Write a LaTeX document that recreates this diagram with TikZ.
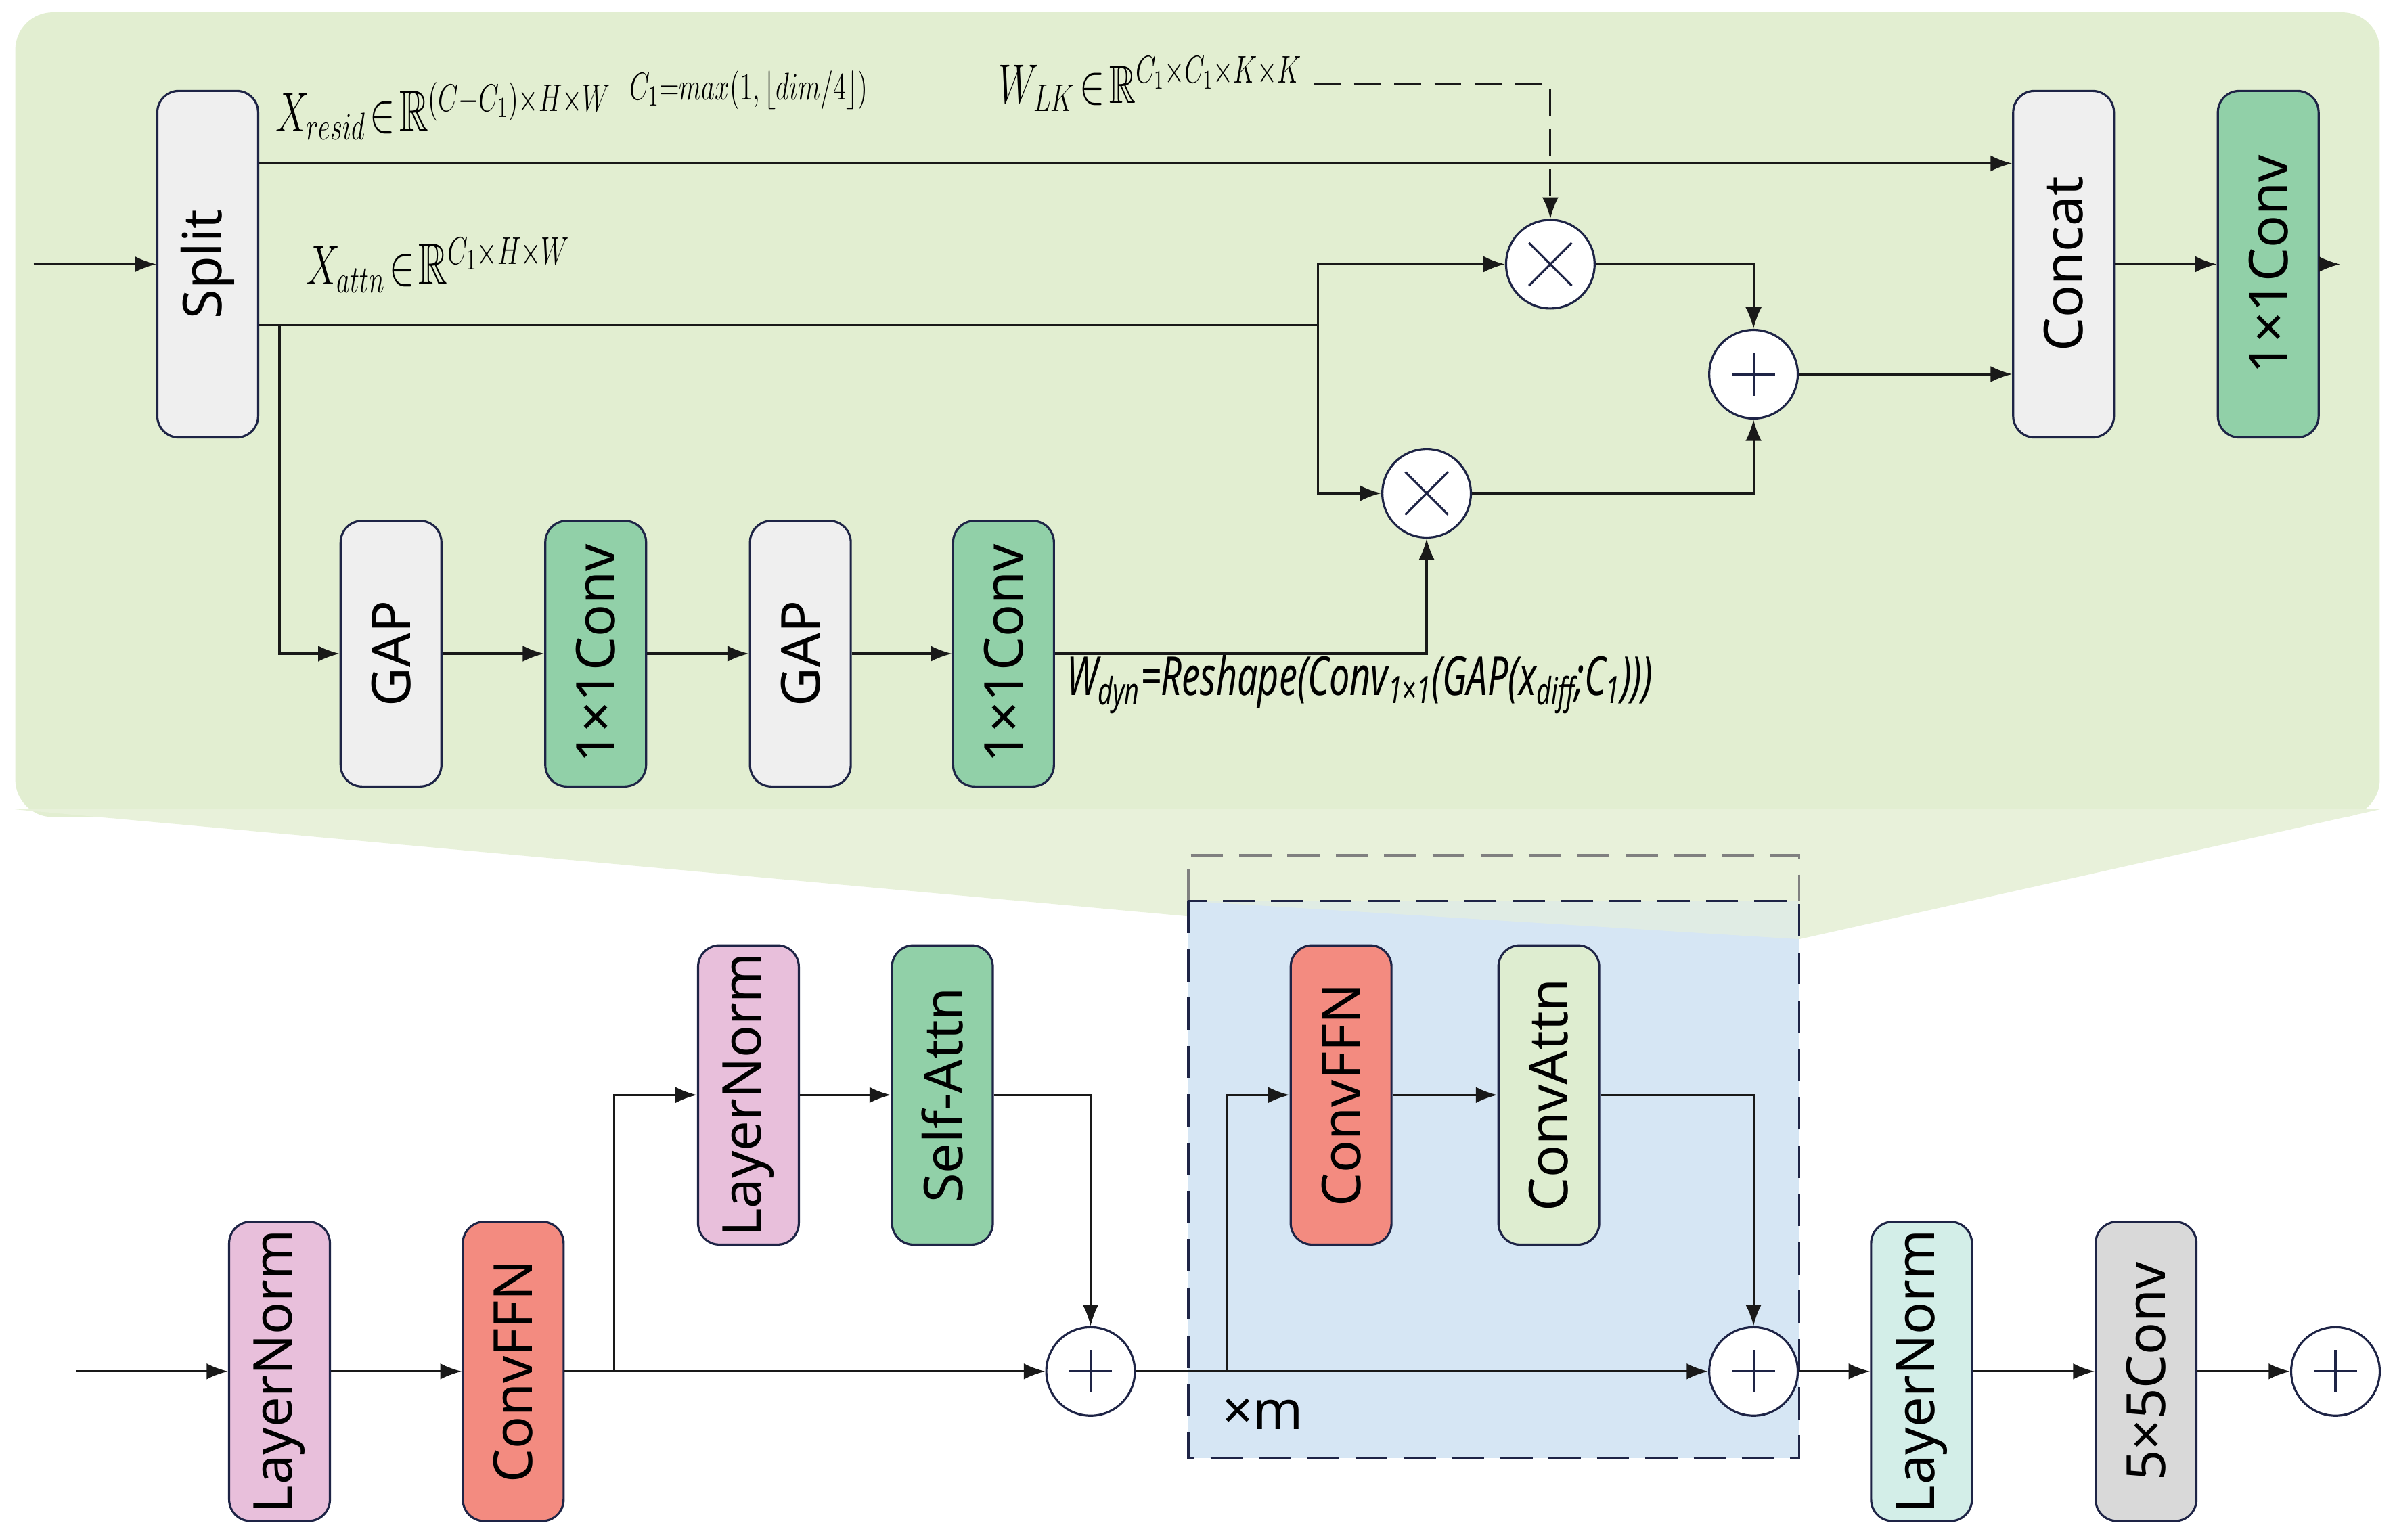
\documentclass[tikz,border=0pt]{standalone}
\usepackage{amsmath,amssymb}
\usepackage{graphicx}
\usepackage{fontspec}
\setmainfont{Noto Sans}
\usetikzlibrary{arrows.meta,positioning,calc}
\definecolor{panelgreen}{RGB}{226,238,209}
\definecolor{splitgray}{RGB}{239,239,239}
\definecolor{convgreen}{RGB}{145,208,168}
\definecolor{lnpink}{RGB}{232,191,219}
\definecolor{ffnred}{RGB}{243,139,128}
\definecolor{attnlight}{RGB}{222,237,208}
\definecolor{lncyan}{RGB}{211,238,232}
\definecolor{kgray}{RGB}{217,217,217}
\definecolor{boxblue}{RGB}{214,230,244}
\definecolor{navy}{RGB}{30,36,70}
\tikzset{
    blk/.style={draw=navy, thick, rounded corners=8pt, rotate=90, minimum height=1.32cm,
        inner sep=2pt, font=\fontsize{20}{24}\selectfont},
    opn/.style={draw=navy, thick, circle, fill=white, minimum size=1.16cm, inner sep=0pt},
    line/.style={thick, black!90},
    arr/.style={line, -{Latex[length=8pt,width=6pt]}},
    mlab/.style={font=\fontsize{22}{26}\selectfont, inner sep=0pt}
}
\newcommand{\oplusmark}[1]{\draw[thick,navy] ($(#1)+(-14,0)$) -- ($(#1)+(14,0)$) ($(#1)+(0,-14)$) -- ($(#1)+(0,14)$);}
\newcommand{\otimesmark}[1]{\draw[thick,navy] ($(#1)+(-14,-14)$) -- ($(#1)+(14,14)$) ($(#1)+(-14,14)$) -- ($(#1)+(14,-14)$);}
\newcommand{\narrow}[1]{\scalebox{0.68}[1]{#1}}
\begin{document}
\begin{tikzpicture}[x=0.02cm, y=-0.02cm]
    \useasboundingbox (0,0) rectangle (1568,1008);
    % Panels
    \fill[panelgreen, rounded corners=14pt] (10,8) rectangle (1558,535);
    \fill[panelgreen!80!white] (10,530) -- (1558,530) -- (1178,615) -- (778,600) -- cycle;
    \fill[boxblue] (778,590) rectangle (1178,955);
    \fill[panelgreen!80!white, opacity=0.6] (778,590) -- (1178,615) -- (1178,590) -- cycle;
    \draw[gray, thick, dash pattern=on 12pt off 6pt] (778,590) -- (778,560) -- (1178,560) -- (1178,590);
    \draw[navy, thick, dash pattern=on 12pt off 6pt] (778,590) rectangle (1178,955);

    % Top branch nodes
    \node[blk, fill=splitgray, minimum width=4.54cm] (split) at (136,173) {Split};
    \node[blk, fill=splitgray, minimum width=4.54cm] (concat) at (1351,173) {Concat};
    \node[blk, fill=convgreen, minimum width=4.54cm] (convout) at (1485,173) {1×1Conv};
    \node[blk, fill=splitgray, minimum width=3.48cm] (gapa) at (256,428) {GAP};
    \node[blk, fill=convgreen, minimum width=3.48cm] (conva) at (390,428) {1×1Conv};
    \node[blk, fill=splitgray, minimum width=3.48cm] (gapb) at (524,428) {GAP};
    \node[blk, fill=convgreen, minimum width=3.48cm] (convb) at (657,428) {1×1Conv};
    \node[opn] (mulk) at (1015,173) {};
    \node[opn] (muld) at (934,323) {};
    \node[opn] (addt) at (1148,245) {};
    \otimesmark{mulk} \otimesmark{muld} \oplusmark{addt}
    \coordinate (xin) at (22,173);
    \coordinate (xout) at (1532,173);
    \coordinate (wlk) at (860,55);

    % Top labels
    \node[mlab, anchor=south west] (lres) at (180,92) {\narrow{$X_{resid}\!\in\!\mathbb{R}^{(C-C_1)\times H\times W}$}};
    \node[mlab, anchor=south west, font=\fontsize{15}{18}\selectfont] (lc1) at (412,72) {\narrow{$C_1{=}max(1,\lfloor dim/4\rfloor)$}};
    \node[mlab, anchor=south west] (lattn) at (200,192) {\narrow{$X_{attn}\!\in\!\mathbb{R}^{C_1\times H\times W}$}};
    \node[mlab, anchor=east, font=\fontsize{20}{24}\selectfont] (llk) at ([xshift=-4]wlk) {\narrow{$W_{LK}\!\in\!\mathbb{R}^{C_1\times C_1\times K\times K}$}};
    \node[anchor=west, inner sep=0pt, font=\fontsize{20}{24}\selectfont\itshape] (ldyn) at (698,448)
        {\narrow{W\textsubscript{dyn}=Reshape(Conv\textsubscript{1×1}(GAP(x\textsubscript{diff};C\textsubscript{1})))}};

    % Top connectors
    \draw[arr] (xin) -- (split);
    \draw[arr] (split.south |- 0,107) -- (concat.north |- 0,107);
    \draw[line] (split.south |- 0,213) -- (863,213);
    \draw[arr] (863,213) |- (mulk);
    \draw[arr] (863,213) |- (muld);
    \draw[arr] (183,213) |- (gapa);
    \draw[arr] (gapa) -- (conva);
    \draw[arr] (conva) -- (gapb);
    \draw[arr] (gapb) -- (convb);
    \draw[arr] (convb) -| (muld);
    \draw[arr, dash pattern=on 10pt off 5pt] (wlk) -| (mulk);
    \draw[arr] (mulk) -| (addt);
    \draw[arr] (muld) -| (addt);
    \draw[arr] (addt) -- (concat.north |- addt);
    \draw[arr] (concat) -- (convout);
    \draw[arr] (convout) -- (xout);

    % Bottom row nodes
    \node[blk, fill=lnpink, minimum width=3.92cm] (lna) at (183,898) {LayerNorm};
    \node[blk, fill=ffnred, minimum width=3.92cm] (ffna) at (336,898) {ConvFFN};
    \node[blk, fill=lnpink, minimum width=3.92cm] (lnb) at (490,717) {LayerNorm};
    \node[blk, fill=convgreen, minimum width=3.92cm] (sattn) at (617,717) {Self-Attn};
    \node[blk, fill=ffnred, minimum width=3.92cm] (ffnb) at (878,717) {ConvFFN};
    \node[blk, fill=attnlight, minimum width=3.92cm] (cattn) at (1014,717) {ConvAttn};
    \node[blk, fill=lncyan, minimum width=3.92cm] (lnc) at (1258,898) {LayerNorm};
    \node[blk, fill=kgray, minimum width=3.92cm] (convk) at (1405,898) {5×5Conv};
    \node[opn] (adda) at (714,898) {};
    \node[opn] (addb) at (1148,898) {};
    \node[opn] (addc) at (1529,898) {};
    \oplusmark{adda} \oplusmark{addb} \oplusmark{addc}
    \node[font=\fontsize{20}{24}\selectfont, anchor=west, inner sep=0pt] (rep) at (800,926) {×m};
    \coordinate (bin) at (50,898);

    % Bottom connectors
    \draw[arr] (bin) -- (lna);
    \draw[arr] (lna) -- (ffna);
    \draw[arr] (ffna) -- (adda);
    \draw[arr] (402,898) |- (lnb);
    \draw[arr] (lnb) -- (sattn);
    \draw[arr] (sattn) -| (adda);
    \draw[arr] (adda) -- (addb);
    \draw[arr] (803,898) |- (ffnb);
    \draw[arr] (ffnb) -- (cattn);
    \draw[arr] (cattn) -| (addb);
    \draw[arr] (addb) -- (lnc);
    \draw[arr] (lnc) -- (convk);
    \draw[arr] (convk) -- (addc);
\end{tikzpicture}
\end{document}
